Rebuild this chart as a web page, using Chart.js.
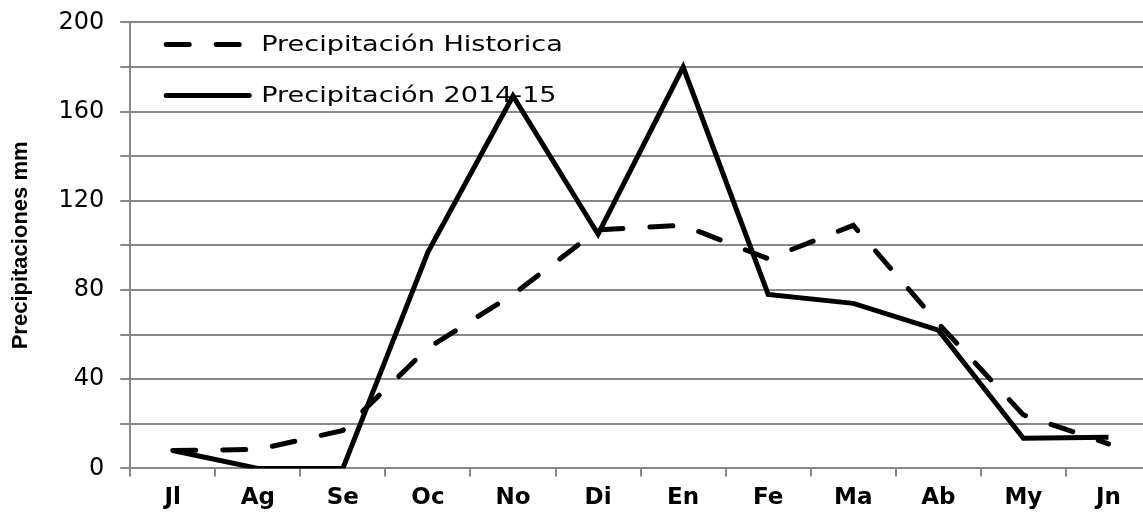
<!DOCTYPE html>
<html>
<head>
<meta charset="utf-8">
<script src="https://cdn.jsdelivr.net/npm/chart.js@4/dist/chart.umd.min.js"></script>
<style>
html,body{margin:0;padding:0;background:#fff;overflow:hidden;width:1143px;height:512px;}
#wrap{width:1160px;height:528px;position:absolute;left:0;top:-8px;}
</style>
</head>
<body>
<div id="wrap"><canvas id="c" width="1160" height="528"></canvas></div>
<script>
const categories = ["Jl","Ag","Se","Oc","No","Di","En","Fe","Ma","Ab","My","Jn"];
const historica = [8, 8.5, 17, 54, 78, 107, 109, 94, 109, 65, 24, 11];
const actual = [8, 0, 0, 97, 167, 105, 180, 78, 74, 62, 13.5, 14];
const seriesLabels = ["Precipitación Historica", "Precipitación 2014-15"];
const yTitle = "Precipitaciones mm";

const legendPlugin = {
  id: 'insideLegend',
  afterDatasetsDraw(chart) {
    const ctx = chart.ctx;
    const top = chart.chartArea.top;
    const rows = [top + 22, top + 73];
    const left = chart.chartArea.left;
    chart.data.datasets.forEach((ds, i) => {
      const y = rows[i];
      ctx.save();
      ctx.strokeStyle = ds.borderColor;
      ctx.lineWidth = ds.borderWidth;
      ctx.lineCap = 'round';
      ctx.setLineDash(ds.borderDash || []);
      ctx.beginPath();
      ctx.moveTo(left + 36, y);
      ctx.lineTo(left + (i === 0 ? 110 : 119), y);
      ctx.stroke();
      ctx.setLineDash([]);
      ctx.fillStyle = '#000';
      ctx.font = '21px "DejaVu Sans"';
      ctx.textBaseline = 'middle';
      ctx.translate(left + 131, y + 1);
      ctx.scale(1.29, 1);
      ctx.fillText(ds.label, 0, 0);
      ctx.restore();
    });
  }
};

new Chart(document.getElementById('c'), {
  type: 'line',
  data: {
    labels: categories,
    datasets: [
      { label: seriesLabels[0], data: historica, borderColor: '#000', borderWidth: 5,
        borderDash: [23, 27], borderCapStyle: 'round', pointRadius: 0, tension: 0, fill: false },
      { label: seriesLabels[1], data: actual, borderColor: '#000', borderWidth: 5,
        borderJoinStyle: 'miter', pointRadius: 0, tension: 0, fill: false }
    ]
  },
  options: {
    responsive: false,
    animation: false,
    layout: { padding: { top: 8, right: 9, bottom: 0, left: 8 } },
    plugins: { legend: { display: false }, tooltip: { enabled: false } },
    scales: {
      x: {
        offset: true,
        grid: { offset: true, drawOnChartArea: false, color: '#888', lineWidth: 2, tickLength: 8 },
        border: { color: '#888', width: 2 },
        ticks: { color: '#000', font: { family: '"DejaVu Sans"', size: 23, weight: 'bold' }, padding: 8 }
      },
      y: {
        min: 0, max: 200,
        grid: { color: '#888', lineWidth: 2, tickLength: 10 },
        border: { color: '#888', width: 2 },
        ticks: { stepSize: 20, color: '#000', font: { family: '"DejaVu Sans"', size: 24 }, padding: 16,
          callback: v => (v % 40 === 0 ? v : '') },
        title: { display: true, text: yTitle, color: '#000', font: { family: '"Liberation Sans"', size: 22, weight: 'bold' }, padding: { top: 0, bottom: 8 } }
      }
    }
  },
  plugins: [legendPlugin]
});
</script>
</body>
</html>
